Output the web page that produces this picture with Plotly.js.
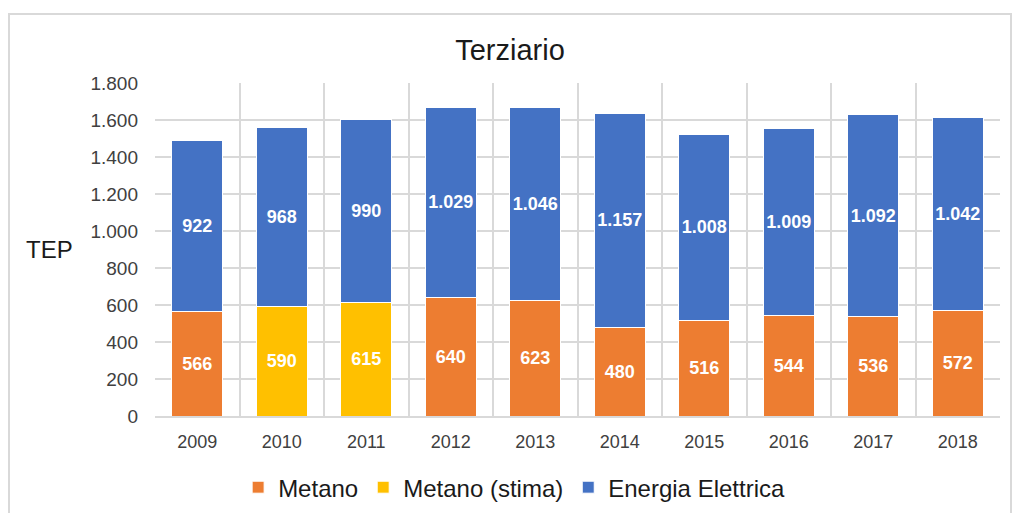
<!DOCTYPE html>
<html>
<head>
<meta charset="utf-8">
<script src="https://cdn.plot.ly/plotly-3.0.1.min.js"></script>
<style>
  html, body { margin: 0; padding: 0; background: #fff; }
  #frame { position: absolute; left: 8px; top: 13px; width: 1000px; height: 505px; border: 2px solid #d9d9d9; border-bottom: none; }
  #chart { width: 1000px; height: 505px; }
</style>
</head>
<body>
<div id="frame"><div id="chart"></div></div>
<script>
const years = [2009, 2010, 2011, 2012, 2013, 2014, 2015, 2016, 2017, 2018];
const metano = [566, null, null, 640, 623, 480, 516, 544, 536, 572];
const metanoStima = [null, 590, 615, null, null, null, null, null, null, null];
const energiaElettrica = [922, 968, 990, 1029, 1046, 1157, 1008, 1009, 1092, 1042];

const labelFont = { family: 'Liberation Sans, Arial, sans-serif', size: 18, color: '#ffffff', weight: 'bold' };
const common = {
  type: 'bar', x: years, width: 0.6,
  texttemplate: '<b>%{y:,d}</b>', textposition: 'inside', insidetextanchor: 'middle',
  textangle: 0, textfont: labelFont, constraintext: 'none', hoverinfo: 'skip'
};

const traces = [
  Object.assign({}, common, { name: 'Metano', y: metano, marker: { color: '#ED7D31', line: { color: '#ffffff', width: 1 } } }),
  Object.assign({}, common, { name: 'Metano (stima)', y: metanoStima, marker: { color: '#FFC000', line: { color: '#ffffff', width: 1 } } }),
  Object.assign({}, common, { name: 'Energia Elettrica', y: energiaElettrica, marker: { color: '#4472C4', line: { color: '#ffffff', width: 1 } } })
];

const layout = {
  width: 1000, height: 505,
  margin: { l: 145, r: 10, t: 68, b: 104 },
  barmode: 'stack',
  separators: ',.',
  paper_bgcolor: '#ffffff', plot_bgcolor: '#ffffff',
  font: { family: 'Liberation Sans, Arial, sans-serif', size: 18, color: '#404040' },
  title: { text: 'Terziario', x: 0.5, xanchor: 'center', y: 0.931, yanchor: 'middle',
           font: { family: 'Liberation Sans, Arial, sans-serif', size: 29, color: '#1a1a1a' } },
  xaxis: {
    type: 'linear', range: [2008.5, 2018.5], tickmode: 'array', tickvals: years,
    ticktext: years.map(String), showgrid: false, zeroline: false,
    showline: true, linecolor: '#d9d9d9', linewidth: 2, ticks: '', ticklen: 0,
    ticklabelstandoff: 8,
    tickfont: { size: 18, color: '#404040' },
    minor: { tick0: 2008.5, dtick: 1, showgrid: true, gridcolor: '#d9d9d9', gridwidth: 2, ticks: '' }
  },
  yaxis: {
    range: [0, 1800], dtick: 200, tick0: 0, tickformat: ',d',
    showgrid: true, gridcolor: '#d9d9d9', gridwidth: 2, zeroline: false,
    showline: false, ticks: '', ticklabelstandoff: 16, tickfont: { size: 19, color: '#404040' }
  },
  showlegend: true,
  legend: { orientation: 'h', x: 0.425, xanchor: 'center', y: -0.215, yanchor: 'middle',
            font: { size: 24, color: '#1a1a1a' }, traceorder: 'normal', itemwidth: 30 },
  annotations: [
    { text: 'TEP', xref: 'paper', yref: 'paper', x: -0.125, y: 0.5, xanchor: 'center', yanchor: 'middle',
      showarrow: false, font: { size: 24, color: '#1a1a1a' } }
  ]
};

Plotly.newPlot('chart', traces, layout, { displayModeBar: false, staticPlot: true });
</script>
</body>
</html>
